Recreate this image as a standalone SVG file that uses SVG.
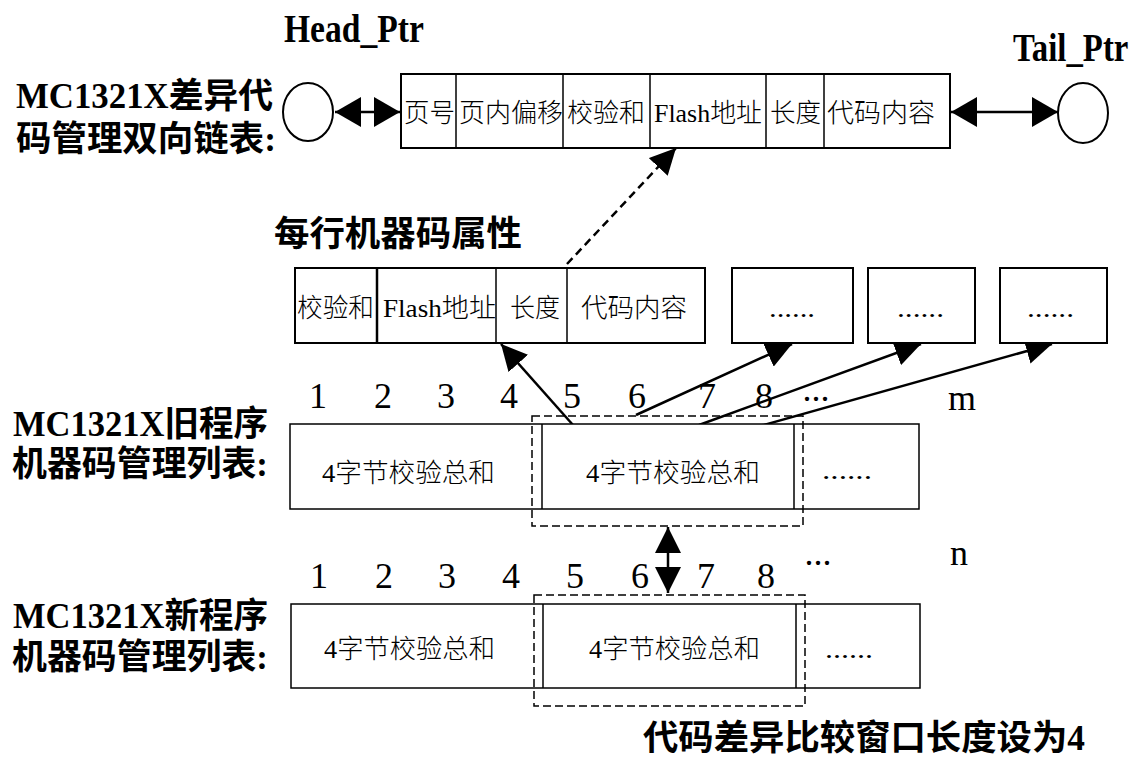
<svg xmlns="http://www.w3.org/2000/svg" width="1145" height="761" viewBox="0 0 1145 761">
<style>
.bold{font-family:"Liberation Serif","Noto Sans CJK SC",serif;font-weight:bold;fill:#000}
.lbl{font-family:"Liberation Serif","Noto Sans CJK SC",serif;font-size:26px;font-weight:300;fill:#000}
.num{font-family:"Liberation Serif",serif;font-size:36px;fill:#000;text-anchor:middle}
.box{fill:#fff;stroke:#000;stroke-width:2}
.div{stroke:#000;stroke-width:1.5}
.dash{fill:none;stroke:#000;stroke-width:1.5;stroke-dasharray:8 4}
.arr{fill:none;stroke:#000;stroke-width:2.5}
</style>
<defs>
<marker id="ah" markerUnits="userSpaceOnUse" markerWidth="26" markerHeight="26" refX="26" refY="13" orient="auto-start-reverse" viewBox="0 0 26 26">
<path d="M0,0 L26,13 L0,26 z" fill="#000"/>
</marker>
<marker id="ah2" markerUnits="userSpaceOnUse" markerWidth="26" markerHeight="30" refX="26" refY="15" orient="auto-start-reverse" viewBox="0 0 26 30">
<path d="M0,0 L26,15 L0,30 z" fill="#000"/>
</marker>
</defs>
<rect width="1145" height="761" fill="#fff"/>

<g id="connectors">
<line class="arr" x1="335" y1="112" x2="400" y2="112" marker-start="url(#ah2)" marker-end="url(#ah2)"/>
<line class="arr" x1="951" y1="112" x2="1058" y2="112" marker-start="url(#ah2)" marker-end="url(#ah2)"/>
<line class="arr" x1="567" y1="264" x2="676" y2="148" stroke-dasharray="8 5" marker-end="url(#ah)"/>
<line class="arr" x1="573" y1="425" x2="501" y2="344" marker-end="url(#ah)"/>
<line class="arr" x1="636" y1="415" x2="792" y2="344" marker-end="url(#ah)"/>
<line class="arr" x1="699" y1="425" x2="921" y2="344" marker-end="url(#ah)"/>
<line class="arr" x1="760" y1="426" x2="1052" y2="344" marker-end="url(#ah)"/>
<line class="arr" x1="668" y1="527" x2="668" y2="593" marker-start="url(#ah)" marker-end="url(#ah)"/>
</g>

<g id="title-labels">
<text class="bold" transform="translate(284,42) scale(0.84,1)" font-size="40">Head_Ptr</text>
<text class="bold" transform="translate(1013,61) scale(0.82,1)" font-size="40">Tail_Ptr</text>
<text class="bold" x="16" y="108" font-size="35" textLength="257" lengthAdjust="spacingAndGlyphs">MC1321X差异代</text>
<text class="bold" x="16" y="151" font-size="35" textLength="260" lengthAdjust="spacingAndGlyphs">码管理双向链表:</text>
<text class="bold" x="274" y="246" font-size="35" textLength="248" lengthAdjust="spacingAndGlyphs">每行机器码属性</text>
<text class="bold" x="13" y="436" font-size="35" textLength="255" lengthAdjust="spacingAndGlyphs">MC1321X旧程序</text>
<text class="bold" x="12" y="476" font-size="35" textLength="256" lengthAdjust="spacingAndGlyphs">机器码管理列表:</text>
<text class="bold" x="13" y="628" font-size="35" textLength="255" lengthAdjust="spacingAndGlyphs">MC1321X新程序</text>
<text class="bold" x="12" y="669" font-size="35" textLength="256" lengthAdjust="spacingAndGlyphs">机器码管理列表:</text>
<text class="bold" x="643" y="750" font-size="35" textLength="442" lengthAdjust="spacingAndGlyphs">代码差异比较窗口长度设为4</text>
</g>

<g id="head-ptr">
<ellipse cx="308" cy="112" rx="25" ry="29" fill="#fff" stroke="#000" stroke-width="2"/>
</g>
<g id="tail-ptr">
<ellipse cx="1083" cy="113" rx="25" ry="30" fill="#fff" stroke="#000" stroke-width="2"/>
</g>

<g id="diff-node">
<rect class="box" x="401" y="74" width="549" height="74"/>
<line class="div" x1="456" y1="74" x2="456" y2="148"/>
<line class="div" x1="563" y1="74" x2="563" y2="148"/>
<line class="div" x1="650" y1="74" x2="650" y2="148"/>
<line class="div" x1="766" y1="74" x2="766" y2="148"/>
<line class="div" x1="824" y1="74" x2="824" y2="148"/>
<text class="lbl" x="404" y="122" textLength="51" lengthAdjust="spacingAndGlyphs">页号</text>
<text class="lbl" x="459" y="122" textLength="104" lengthAdjust="spacingAndGlyphs">页内偏移</text>
<text class="lbl" x="567" y="122" textLength="78" lengthAdjust="spacingAndGlyphs">校验和</text>
<text class="lbl" x="654" y="122" textLength="108" lengthAdjust="spacingAndGlyphs">Flash地址</text>
<text class="lbl" x="770" y="122" textLength="51" lengthAdjust="spacingAndGlyphs">长度</text>
<text class="lbl" x="827" y="122" textLength="108" lengthAdjust="spacingAndGlyphs">代码内容</text>
</g>

<g id="attr-node">
<rect class="box" x="295" y="268" width="410" height="75"/>
<line x1="377" y1="268" x2="377" y2="343" stroke="#000" stroke-width="2.5"/>
<line class="div" x1="496" y1="268" x2="496" y2="343"/>
<line class="div" x1="567" y1="268" x2="567" y2="343"/>
<text class="lbl" x="297" y="317" textLength="77" lengthAdjust="spacingAndGlyphs">校验和</text>
<text class="lbl" x="383" y="317" textLength="113" lengthAdjust="spacingAndGlyphs">Flash地址</text>
<text class="lbl" x="510" y="317" textLength="50" lengthAdjust="spacingAndGlyphs">长度</text>
<text class="lbl" x="581" y="317" textLength="106" lengthAdjust="spacingAndGlyphs">代码内容</text>
</g>

<g id="attr-more-1">
<rect class="box" x="732" y="268" width="121" height="75"/>
<text class="lbl" x="769" y="317" textLength="46" lengthAdjust="spacingAndGlyphs">......</text>
</g>
<g id="attr-more-2">
<rect class="box" x="868" y="268" width="107" height="75"/>
<text class="lbl" x="897" y="317" textLength="47" lengthAdjust="spacingAndGlyphs">......</text>
</g>
<g id="attr-more-3">
<rect class="box" x="1000" y="268" width="107" height="75"/>
<text class="lbl" x="1027" y="317" textLength="47" lengthAdjust="spacingAndGlyphs">......</text>
</g>

<g id="old-index">
<text class="num" x="318" y="408">1</text>
<text class="num" x="383" y="408">2</text>
<text class="num" x="446" y="408">3</text>
<text class="num" x="509" y="408">4</text>
<text class="num" x="572" y="408">5</text>
<text class="num" x="637" y="408">6</text>
<text class="num" x="707" y="408">7</text>
<text class="num" x="764" y="408">8</text>
<text class="num" x="816" y="401" font-size="30">...</text>
<text class="num" x="962" y="410">m</text>
</g>

<g id="old-list">
<rect x="290" y="424" width="629" height="85" fill="#fff" stroke="#000" stroke-width="1.5"/>
<line class="div" x1="542" y1="424" x2="542" y2="509"/>
<line class="div" x1="794" y1="424" x2="794" y2="509"/>
<text class="lbl" x="322" y="482" textLength="173" lengthAdjust="spacingAndGlyphs">4字节校验总和</text>
<text class="lbl" x="586" y="482" textLength="174" lengthAdjust="spacingAndGlyphs">4字节校验总和</text>
<text class="lbl" x="822" y="479" textLength="50" lengthAdjust="spacingAndGlyphs">......</text>
<rect class="dash" x="532" y="416" width="271" height="110"/>
</g>

<g id="new-index">
<text class="num" x="319" y="588">1</text>
<text class="num" x="384" y="588">2</text>
<text class="num" x="447" y="588">3</text>
<text class="num" x="511" y="588">4</text>
<text class="num" x="575" y="588">5</text>
<text class="num" x="640" y="588">6</text>
<text class="num" x="706" y="588">7</text>
<text class="num" x="766" y="588">8</text>
<text class="num" x="818" y="565" font-size="30">...</text>
<text class="num" x="959" y="565">n</text>
</g>

<g id="new-list">
<rect x="291" y="604" width="629" height="84" fill="#fff" stroke="#000" stroke-width="1.5"/>
<line class="div" x1="543" y1="604" x2="543" y2="688"/>
<line class="div" x1="796" y1="604" x2="796" y2="688"/>
<text class="lbl" x="324" y="658" textLength="171" lengthAdjust="spacingAndGlyphs">4字节校验总和</text>
<text class="lbl" x="589" y="658" textLength="171" lengthAdjust="spacingAndGlyphs">4字节校验总和</text>
<text class="lbl" x="825" y="658" textLength="48" lengthAdjust="spacingAndGlyphs">......</text>
<rect class="dash" x="534" y="595" width="271" height="111"/>
</g>
</svg>
